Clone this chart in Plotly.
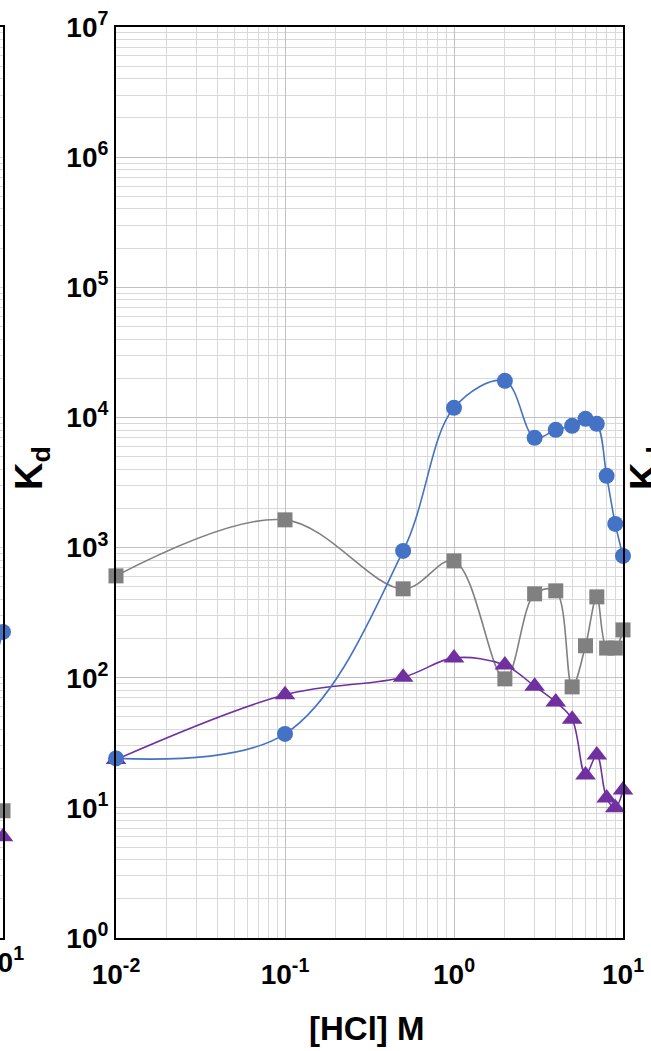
import plotly.graph_objects as go

# ---------------- data ----------------
hcl = [0.01, 0.1, 0.5, 1, 2, 3, 4, 5, 6, 7, 8, 9, 10]
kd_blue = [24, 37, 943, 11850, 19100, 6970, 8030, 8620, 9750, 8930, 3560, 1520, 863]
kd_grey = [606, 1633, 482, 790, 98, 441, 465, 85, 176, 418, 169, 169, 233]
kd_purple = [23.5, 74, 101, 142, 125, 86, 65, 48, 17.9, 25.5, 11.9, 10, 13.7]

# fragment of the neighbouring (left) panel
left_x_blue = [9, 10]
left_blue = [139, 225]
left_x = [10]
left_grey = [9.5]
left_purple = [6]
left_x_ticktext = "10<sup>1</sup>"

y_tickvals = [1, 10, 100, 1000, 1e4, 1e5, 1e6, 1e7]
y_ticktext = ["10<sup>0</sup>", "10<sup>1</sup>", "10<sup>2</sup>", "10<sup>3</sup>",
              "10<sup>4</sup>", "10<sup>5</sup>", "10<sup>6</sup>", "10<sup>7</sup>"]
x_tickvals = [0.01, 0.1, 1, 10]
x_ticktext = ["10<sup>-2</sup>", "10<sup>-1</sup>", "10<sup>0</sup>", "10<sup>1</sup>"]
x_title = "[HCl] M"
y_title = "K<sub>d</sub>"

# ---------------- styling ----------------
W, H = 651, 1051
BLUE, GREY, PURPLE = "#4472C4", "#808080", "#7030A0"
FONT = "Liberation Sans"
x_minor = [m * 10 ** e for e in range(-2, 1) for m in range(2, 10)]
y_minor = [m * 10 ** e for e in range(0, 7) for m in range(2, 10)]

px_l, px_r, px_t, px_b = 116, 623, 27, 938
xdom = [px_l / W, px_r / W]
ydom = [(H - px_b) / H, (H - px_t) / H]

fig = go.Figure()

def add_series(x, y, color, symbol, size, xa="x", ya="y"):
    fig.add_trace(go.Scatter(
        x=x, y=y, mode="lines+markers", xaxis=xa, yaxis=ya,
        line=dict(color=color, width=1.6, shape="spline", smoothing=1.0),
        marker=dict(color=color, symbol=symbol, size=size, line=dict(width=0)),
        cliponaxis=False, showlegend=False, hoverinfo="x+y"))

add_series(hcl, kd_grey, GREY, "square", 15)
add_series(hcl, kd_purple, PURPLE, "triangle-up", 18)
add_series(hcl, kd_blue, BLUE, "circle", 16)

add_series(left_x_blue, left_blue, BLUE, "circle", 16, "x2", "y2")
add_series(left_x, left_grey, GREY, "square", 15, "x2", "y2")
add_series(left_x, left_purple, PURPLE, "triangle-up", 18, "x2", "y2")

tickfont = dict(family=FONT, size=28, color="black", weight="bold")
minor_grid = dict(showgrid=True, gridcolor="#d9d9d9", gridwidth=1.3, ticks="")

fig.update_layout(
    width=W, height=H, autosize=False,
    margin=dict(l=0, r=0, t=0, b=0, pad=0, autoexpand=False),
    paper_bgcolor="white", plot_bgcolor="white",
    showlegend=False,
    xaxis=dict(type="log", domain=xdom, range=[-2, 1], automargin=False,
               tickmode="array", tickvals=x_tickvals, ticktext=x_ticktext,
               tickfont=tickfont, ticks="", ticklabelstandoff=10,
               showgrid=True, gridcolor="#c0c0c0", gridwidth=1.3,
               minor=dict(tickmode="array", tickvals=x_minor, **minor_grid),
               showline=True, linecolor="black", linewidth=2, mirror=True,
               zeroline=False, anchor="y"),
    yaxis=dict(type="log", domain=ydom, range=[0, 7], automargin=False,
               tickmode="array", tickvals=y_tickvals, ticktext=y_ticktext,
               tickfont=tickfont, ticks="", showgrid=True, gridcolor="#c0c0c0", gridwidth=1.3,
               minor=dict(tickmode="array", tickvals=y_minor, **minor_grid),
               showline=True, linecolor="black", linewidth=2, mirror=True,
               zeroline=False, anchor="x"),
    xaxis2=dict(type="log", domain=[0, 3 / W], range=[1 - 3 / 169, 1], automargin=False,
                showticklabels=False, ticks="", showgrid=False,
                showline=True, linecolor="black", linewidth=2, mirror=True,
                zeroline=False, anchor="y2"),
    yaxis2=dict(type="log", domain=ydom, range=[0, 7], side="right", automargin=False,
                showticklabels=False, ticks="", showgrid=True, gridcolor="#d9d9d9",
                minor=dict(tickmode="array", tickvals=y_minor, **minor_grid),
                showline=True, linecolor="black", linewidth=2,
                zeroline=False, anchor="x2"),
    annotations=[
        dict(text=x_title, xref="paper", yref="paper", x=366 / W, y=(H - 1028) / H,
             showarrow=False, xanchor="center", yanchor="middle",
             font=dict(family=FONT, size=33, color="black", weight="bold")),
        dict(text=y_title, xref="paper", yref="paper", x=32 / W, y=(H - 468) / H,
             showarrow=False, xanchor="center", yanchor="middle", textangle=-90,
             font=dict(family=FONT, size=38, color="black", weight="bold")),
        dict(text=y_title, xref="paper", yref="paper", x=647 / W, y=(H - 468) / H,
             showarrow=False, xanchor="center", yanchor="middle", textangle=-90,
             font=dict(family=FONT, size=38, color="black", weight="bold")),
        dict(text=left_x_ticktext, xref="paper", yref="paper", x=3 / W, y=(H - 960) / H,
             showarrow=False, xanchor="center", yanchor="middle",
             font=dict(family=FONT, size=28, color="black", weight="bold")),
    ],
)

fig.write_html("out.html", config={"displayModeBar": False},
               post_script="document.body.style.margin='0';document.body.style.overflow='hidden';")
